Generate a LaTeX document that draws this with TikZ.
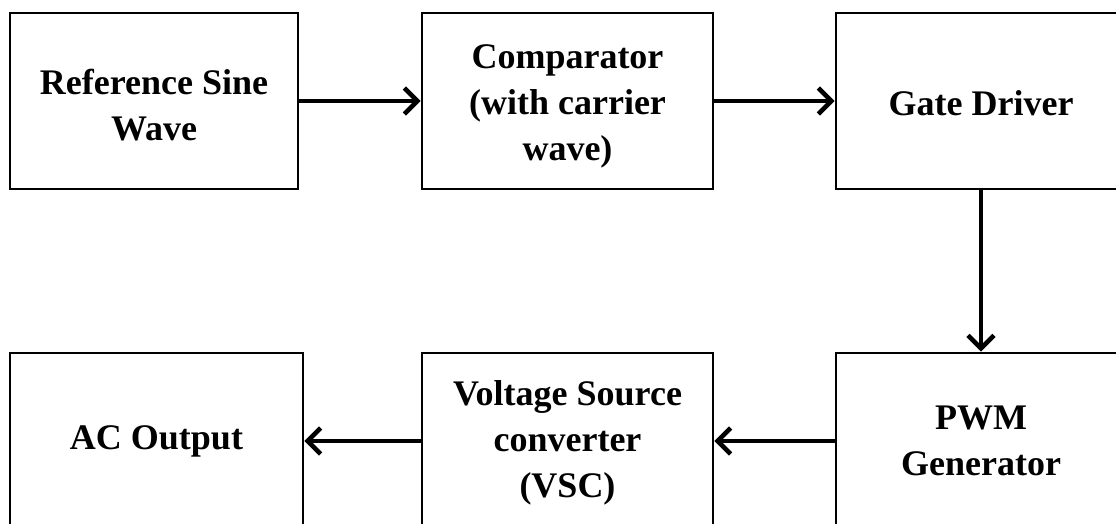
\documentclass[tikz,border=0pt]{standalone}
\usepackage{fontspec}
\setmainfont{Liberation Serif}
\usetikzlibrary{arrows.meta}
\begin{document}
\begin{tikzpicture}[x=1pt,y=-1pt,
  blk/.style={draw=black,line width=2.6pt,minimum width=#1,minimum height=176pt,
    inner sep=0pt},
  blk/.default=290pt,
  txt/.style={align=center,inner sep=0pt,font=\bfseries\fontsize{36}{46}\selectfont},
  flow/.style={line width=4.6pt,-{Straight Barb[length=13pt,width=26pt,line width=4.6pt]}}]
\useasboundingbox (0,0) rectangle (1116,524);
\clip (0,0) rectangle (1116,524);
\fill[white] (0,0) rectangle (1116,524);
\node[blk=288pt,label={[txt,yshift=-4pt]center:{Reference Sine\\Wave}}] (ref) at (154,101) {};
\node[blk=291pt,label={[txt,yshift=-5pt]center:{Comparator\\(with carrier\\wave)}}] (cmp) at (567.5,101) {};
\node[blk=290pt,label={[txt,yshift=-2pt]center:{Gate Driver}}] (gate) at (981,101) {};
\node[blk=293pt,label={[txt]center:{AC Output}}] (ac) at (156.5,441) {};
\node[blk=291pt,label={[txt,yshift=-2pt]center:{Voltage Source\\converter\\(VSC)}}] (vsc) at (567.5,441) {};
\node[blk=290pt,label={[txt]center:{PWM\\Generator}}] (pwm) at (981,441) {};
\draw[flow] (ref.east) -- (cmp.west);
\draw[flow] (cmp.east) -- (gate.west);
\draw[flow] (gate.south) -- (pwm.north);
\draw[flow] (pwm.west) -- (vsc.east);
\draw[flow] (vsc.west) -- (ac.east);
\end{tikzpicture}
\end{document}
